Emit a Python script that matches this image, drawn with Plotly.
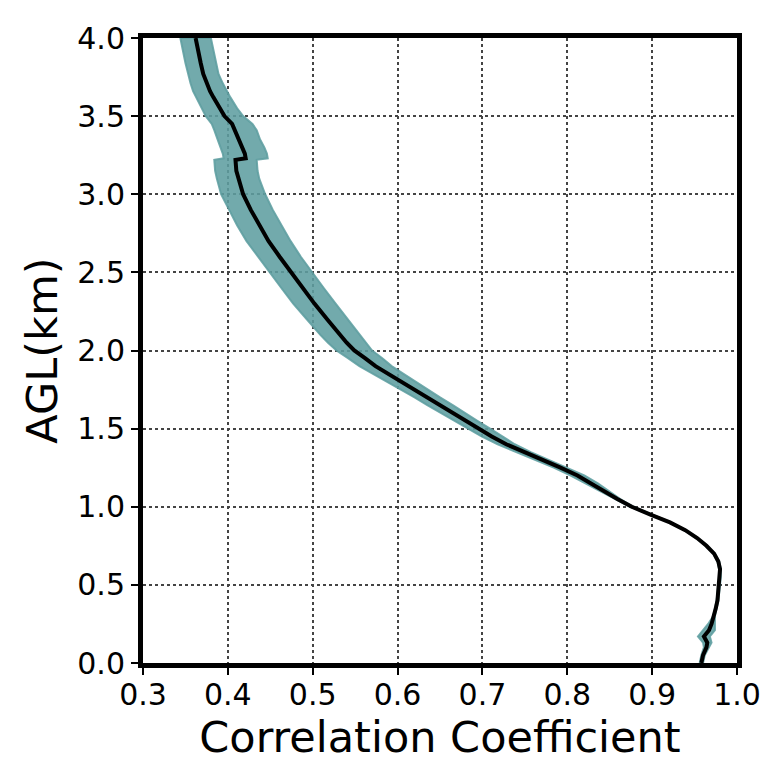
import plotly.graph_objects as go

# Height above ground level (km)
height_km = [0.00, 0.05, 0.10, 0.13, 0.17, 0.21, 0.25, 0.30, 0.35, 0.40, 0.45, 0.50,
             0.55, 0.60, 0.65, 0.70, 0.75, 0.80, 0.85, 0.90, 0.95, 1.00, 1.05, 1.10,
             1.15, 1.20, 1.25, 1.30, 1.35, 1.40, 1.45, 1.50, 1.55, 1.60, 1.65, 1.70,
             1.75, 1.80, 1.85, 1.90, 1.95, 2.00, 2.05, 2.10, 2.20, 2.30, 2.40, 2.50, 2.60,
             2.70, 2.80, 2.90, 3.00, 3.10, 3.15, 3.22, 3.23, 3.26, 3.30, 3.35, 3.41,
             3.45, 3.50, 3.55, 3.62, 3.66, 3.71, 3.77, 3.84, 3.92, 4.00]

# Mean correlation coefficient
corr_mean = [0.958, 0.960, 0.964, 0.965, 0.961, 0.967, 0.970, 0.973, 0.975, 0.977, 0.978, 0.979,
             0.980, 0.980, 0.978, 0.973, 0.964, 0.953, 0.939, 0.921, 0.898, 0.876, 0.859, 0.844,
             0.829, 0.812, 0.792, 0.770, 0.748, 0.728, 0.711, 0.696, 0.680, 0.665, 0.650, 0.635,
             0.620, 0.604, 0.589, 0.574, 0.562, 0.549, 0.540, 0.532, 0.517, 0.502, 0.488, 0.474, 0.461,
             0.448, 0.437, 0.427, 0.418, 0.412, 0.410, 0.409, 0.421, 0.420, 0.417, 0.413, 0.409,
             0.405, 0.396, 0.390, 0.383, 0.379, 0.375, 0.371, 0.368, 0.365, 0.362]

# Spread (half-width) of the shaded band
corr_spread = [0.002, 0.002, 0.003, 0.005, 0.007, 0.007, 0.004, 0.001, 0.001, 0.001, 0.001, 0.001,
               0.001, 0.001, 0.001, 0.001, 0.001, 0.001, 0.001, 0.001, 0.001, 0.002, 0.003, 0.005,
               0.007, 0.008, 0.008, 0.008, 0.009, 0.010, 0.012, 0.013, 0.014, 0.014, 0.015, 0.015,
               0.016, 0.017, 0.018, 0.019, 0.020, 0.021, 0.022, 0.023, 0.024, 0.025, 0.025, 0.025, 0.025,
               0.026, 0.026, 0.026, 0.026, 0.025, 0.025, 0.025, 0.026, 0.026, 0.026, 0.025, 0.025,
               0.024, 0.022, 0.021, 0.020, 0.020, 0.019, 0.018, 0.018, 0.018, 0.018]

x_ticks = [0.3, 0.4, 0.5, 0.6, 0.7, 0.8, 0.9, 1.0]
y_ticks = [0.0, 0.5, 1.0, 1.5, 2.0, 2.5, 3.0, 3.5, 4.0]

lower = [m - s for m, s in zip(corr_mean, corr_spread)]
upper = [m + s for m, s in zip(corr_mean, corr_spread)]

fig = go.Figure()
fig.add_trace(go.Scatter(
    x=lower + upper[::-1], y=height_km + height_km[::-1],
    fill="toself", fillcolor="rgba(95,158,160,0.88)",
    line=dict(color="rgba(95,158,160,0.88)", width=2),
    mode="lines", hoverinfo="skip", showlegend=False))
fig.add_trace(go.Scatter(
    x=corr_mean, y=height_km, mode="lines",
    line=dict(color="black", width=4), showlegend=False))

font_family = "DejaVu Sans"
axis_common = dict(
    showline=True, linewidth=5, linecolor="black", mirror=True,
    ticks="outside", ticklen=7, tickwidth=1.5, tickcolor="black",
    showgrid=True, gridcolor="#444444", griddash="dot", gridwidth=1.5,
    zeroline=False, tickfont=dict(family=font_family, size=30, color="black"),
)

fig.update_xaxes(range=[0.3, 1.0], tickvals=x_ticks, ticktext=[f"{v:.1f}" for v in x_ticks],
                 ticklabelstandoff=-6,
                 title=dict(text="Correlation Coefficient",
                            font=dict(family=font_family, size=43, color="black"), standoff=8),
                 **axis_common)
fig.update_yaxes(range=[0.0, 4.0], tickvals=y_ticks, ticktext=[f"{v:.1f}" for v in y_ticks],
                 title=dict(text="AGL(km)",
                            font=dict(family=font_family, size=43, color="black"), standoff=8),
                 **axis_common)

fig.update_layout(
    width=775, height=773,
    margin=dict(l=143, r=38, t=38, b=110, autoexpand=False),
    plot_bgcolor="white", paper_bgcolor="white",
)

fig.write_html("out.html")
